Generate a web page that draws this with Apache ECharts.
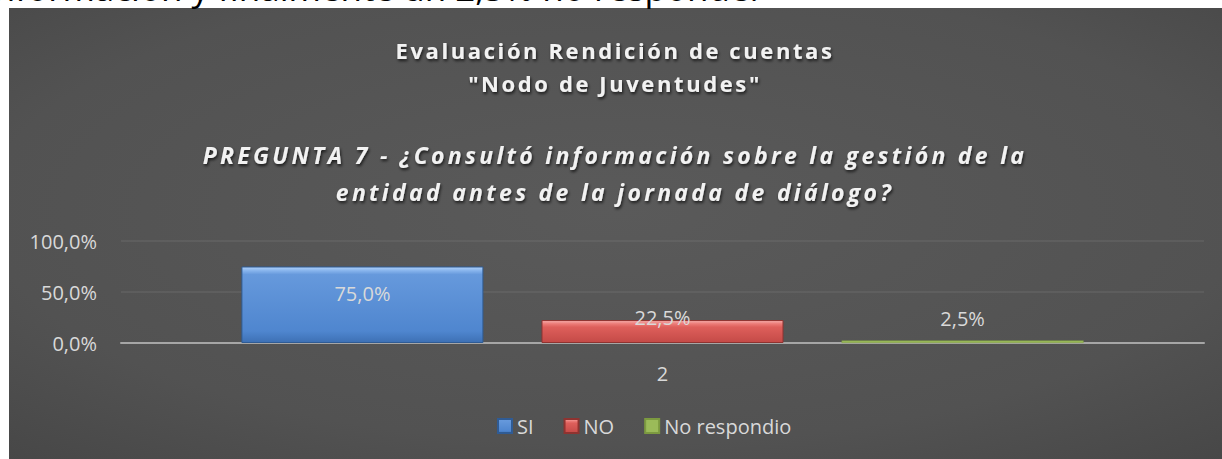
<!DOCTYPE html>
<html>
<head>
<meta charset="utf-8">
<script src="https://cdn.jsdelivr.net/npm/echarts@6/dist/echarts.min.js"></script>
<style>
html,body{margin:0;padding:0;background:#ffffff;}
#c{width:1222px;height:459px;}
#c svg text[style*="22px"]{letter-spacing:2.6px;}
#c svg text[style*="italic"]{letter-spacing:3.3px;}
</style>
</head>
<body>
<div id="c"></div>
<script>
// ---- data ----
const categories = ['2'];
const seriesNames = ['SI', 'NO', 'No respondio'];
const siValues = [0.75];
const noValues = [0.225];
const nrValues = [0.025];
const titleLines = ['Evaluación Rendición de cuentas', '"Nodo de Juventudes"'];
const questionLines = ['PREGUNTA 7 - ¿Consultó información sobre la gestión de la', 'entidad antes de la jornada de diálogo?'];
const topText = 'información y finalmente un 2,5% no responde.';

const FONT = "'Open Sans', sans-serif";
const pct = v => (v * 100).toFixed(1).replace('.', ',') + '%';

function grad(stops) {
  return { type: 'linear', x: 0, y: 0, x2: 0, y2: 1,
    colorStops: stops.map(s => ({ offset: s[0], color: s[1] })) };
}

const chart = echarts.init(document.getElementById('c'), null, { renderer: 'svg' });

const labelBase = { show: true, color: '#d9d9d9', fontSize: 20, fontFamily: FONT,
  align: 'center', verticalAlign: 'middle', formatter: p => pct(p.value) };

chart.setOption({
  backgroundColor: '#ffffff',
  animation: false,
  graphic: [
    { type: 'rect', z: -10, z2: 0, silent: true,
      shape: { x: 9, y: 8, width: 1213, height: 451 },
      style: { fill: { type: 'radial', x: 0.5, y: 0.45, r: 1.48,
        colorStops: [{ offset: 0, color: '#5a5a5a' }, { offset: 0.35, color: '#525252' }, { offset: 1, color: '#242424' }] } } },
    { type: 'text', z: -10, z2: 1, silent: true, x: -15, y: -13,
      style: { text: topText, fill: '#000000', fontSize: 35, fontFamily: FONT, verticalAlign: 'middle', align: 'left' } }
  ],
  title: [
    { text: titleLines.join('\n'), left: 615, textAlign: 'center', top: 33, padding: 0,
      textStyle: { color: '#f2f2f2', fontSize: 22, fontWeight: 'bold', fontFamily: FONT, lineHeight: 33,
        textShadowColor: 'rgba(0,0,0,0.7)', textShadowBlur: 3, textShadowOffsetX: 1, textShadowOffsetY: 2 } },
    { text: questionLines.join('\n'), left: 615, textAlign: 'center', top: 136, padding: 0,
      textStyle: { color: '#f2f2f2', fontSize: 23, fontWeight: 'bold', fontStyle: 'italic', fontFamily: FONT, lineHeight: 37,
        textShadowColor: 'rgba(0,0,0,0.7)', textShadowBlur: 3, textShadowOffsetX: 1, textShadowOffsetY: 2 } }
  ],
  legend: {
    data: seriesNames, left: 492, top: 411, icon: 'rect', itemWidth: 14, itemHeight: 14, itemGap: 30,
    textStyle: { color: '#d9d9d9', fontSize: 20, fontFamily: FONT }
  },
  grid: { left: 121, right: 18, top: 241, bottom: 116, containLabel: false },
  xAxis: {
    type: 'category', data: categories,
    axisTick: { show: false },
    axisLine: { lineStyle: { color: '#a6a6a6', width: 2 } },
    axisLabel: { color: '#d9d9d9', fontSize: 20, fontFamily: FONT, margin: 20 }
  },
  yAxis: {
    type: 'value', min: 0, max: 1, interval: 0.5,
    axisLine: { show: false }, axisTick: { show: false },
    axisLabel: { color: '#d9d9d9', fontSize: 20, fontFamily: FONT, margin: 24, formatter: v => pct(v) },
    splitLine: { lineStyle: { color: 'rgba(255,255,255,0.08)', width: 1.5 } }
  },
  series: [
    { name: seriesNames[0], type: 'bar', data: siValues, barWidth: 242, barGap: '24%',
      itemStyle: { color: grad([[0, '#b0d2fa'], [0.05, '#86b3ec'], [0.1, '#6699dc'], [0.85, '#4f86cf'], [1, '#3d70b4']]),
        borderColor: '#2f5b94', borderWidth: 1 },
      label: Object.assign({}, labelBase, { position: ['50%', 27] }) },
    { name: seriesNames[1], type: 'bar', data: noValues, barWidth: 242,
      itemStyle: { color: grad([[0, '#f7b0ae'], [0.15, '#ec7b77'], [0.3, '#de5f5b'], [1, '#c44a47']]),
        borderColor: '#8f3330', borderWidth: 1 },
      label: Object.assign({}, labelBase, { position: ['50%', -3] }) },
    { name: seriesNames[2], type: 'bar', data: nrValues, barWidth: 242,
      itemStyle: { color: '#9bbb59', borderColor: '#7c9a40', borderWidth: 0.5 },
      label: Object.assign({}, labelBase, { position: ['50%', -22] }) }
  ]
});
</script>
</body>
</html>
